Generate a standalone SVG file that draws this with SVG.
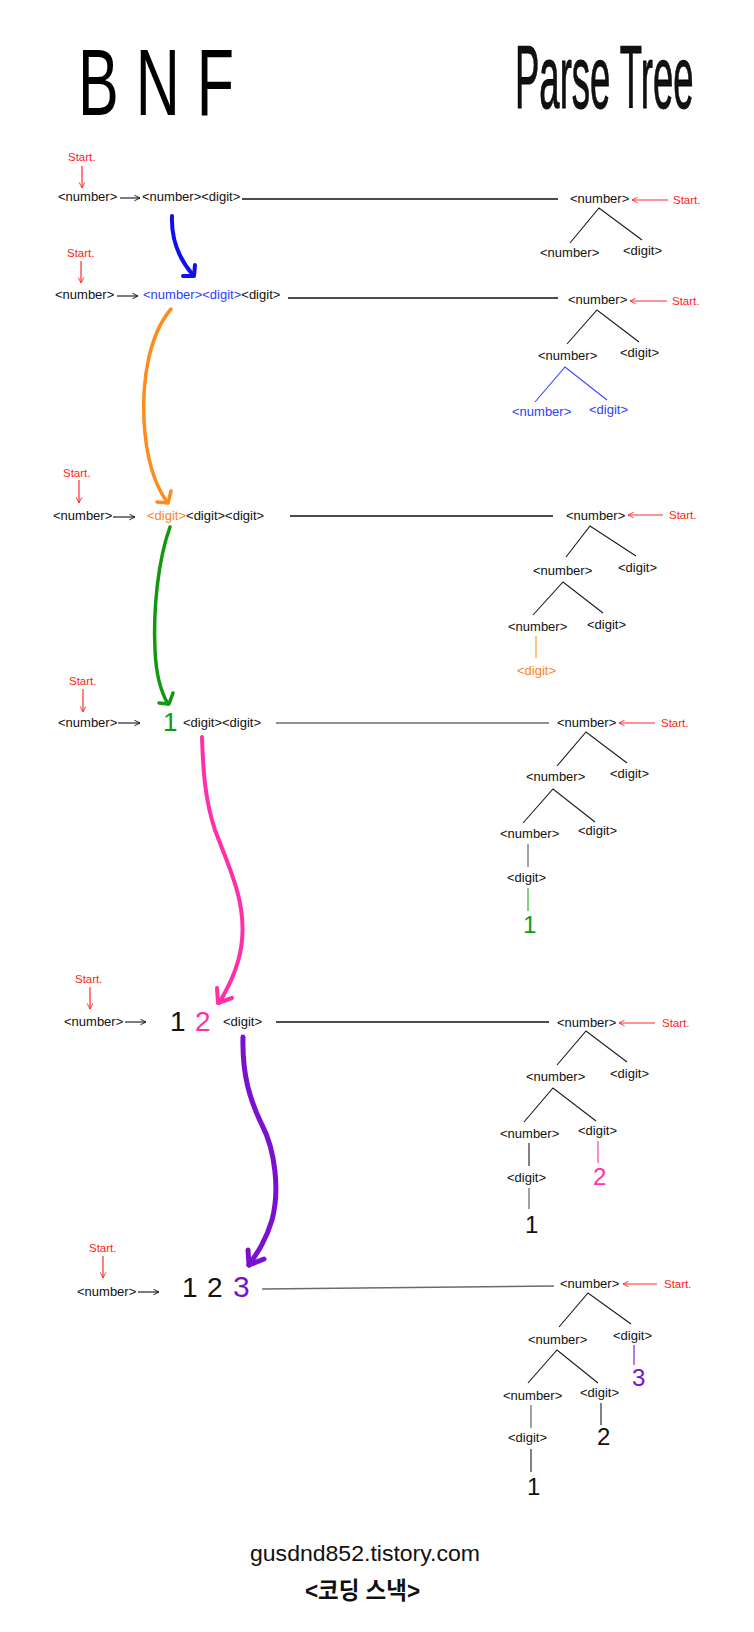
<svg xmlns="http://www.w3.org/2000/svg" width="754" height="1632" viewBox="0 0 754 1632">
<style>
text{font-family:"Liberation Sans",Arial,sans-serif;fill:#111}
.l{font-size:13px}
.s{font-size:11.5px;fill:#ff1a1a}
.d{font-size:26px}
.td{font-size:24px}
.title{font-size:95px;fill:#000}
.foot{font-size:22px;fill:#111}
.kr{font-family:"Liberation Sans","Noto Sans CJK KR",sans-serif;font-size:24px;font-weight:bold}
.blue{fill:#2f3dff}
.orange{fill:#ff7f1a}
.green{fill:#119911}
.pink{fill:#ff2fa8}
.purple{fill:#7a10d0}
.tl{stroke:#1a1a1a;stroke-width:1.1;fill:none}
.hl{stroke:#111;stroke-width:1.5;fill:none}
.gl{stroke:#6a6a6a;stroke-width:1.5;fill:none}
.ra{stroke:#ff2a2a;stroke-width:1.2;fill:none;marker-end:url(#mr)}
.ba{stroke:#111;stroke-width:1.1;fill:none;marker-end:url(#mb)}
.big{fill:none;stroke-linecap:round;stroke-linejoin:round}
</style>
<defs>
<marker id="mr" viewBox="0 0 10 10" refX="9" refY="5" markerWidth="7" markerHeight="7" orient="auto" markerUnits="userSpaceOnUse">
<path d="M1,1 L9,5 L1,9" fill="none" stroke="#ff2a2a" stroke-width="1.3"/>
</marker>
<marker id="mb" viewBox="0 0 10 10" refX="9" refY="5" markerWidth="7" markerHeight="7" orient="auto" markerUnits="userSpaceOnUse">
<path d="M1,1 L9,5 L1,9" fill="none" stroke="#111" stroke-width="1.3"/>
</marker>
</defs>
<rect width="754" height="1632" fill="#fff"/>

<g id="title-bnf"><text class="title" x="78" y="115" textLength="156" lengthAdjust="spacingAndGlyphs">B N F</text></g>
<g id="title-parse"><text transform="translate(515,108) scale(1,2.44)" x="0" y="0" style="font-size:36.5px" fill="#000" stroke="#000" stroke-width="0.4">Parse Tree</text></g>

<g id="connectors">
<!-- start arrows (BNF side) -->
<path class="ra" d="M82,166 L82,188"/>
<path class="ra" d="M81,261 L81,283"/>
<path class="ra" d="M79,480 L79,503"/>
<path class="ra" d="M83,689 L83,712"/>
<path class="ra" d="M90,987 L90,1009"/>
<path class="ra" d="M103,1256 L103,1278"/>
<!-- derivation arrows -->
<path class="ba" d="M120,198 L140,198"/>
<path class="ba" d="M117,296 L138,296"/>
<path class="ba" d="M113,517 L135,517"/>
<path class="ba" d="M118,723 L140,723"/>
<path class="ba" d="M125,1022 L146,1022"/>
<path class="ba" d="M138,1292 L159,1292"/>
<!-- long horizontal lines -->
<path class="hl" d="M242,199 L558,199"/>
<path class="hl" d="M288,298 L558,298"/>
<path class="hl" d="M290,516 L553,516"/>
<path class="gl" d="M276,723 L549,723"/>
<path class="hl" d="M276,1022 L549,1022"/>
<path class="gl" d="M262,1289 L554,1286"/>
<!-- start arrows (tree side) -->
<path class="ra" d="M668,200 L632,200"/>
<path class="ra" d="M667,301 L630,301"/>
<path class="ra" d="M663,515 L628,515"/>
<path class="ra" d="M655,723 L619,723"/>
<path class="ra" d="M655,1023 L619,1023"/>
<path class="ra" d="M657,1284 L623,1284"/>
<!-- tree 1 -->
<path class="tl" d="M570,243 L599,208 L642,240"/>
<!-- tree 2 -->
<path class="tl" d="M567,344 L597,310 L639,342"/>
<path class="tl" d="M535,402 L565,367 L607,400" style="stroke:#3344ff"/>
<!-- tree 3 -->
<path class="tl" d="M566,557 L590,526 L636,556"/>
<path class="tl" d="M533,615 L563,582 L603,613"/>
<path class="tl" d="M536,636 L536,658" style="stroke:#ff8c2a"/>
<!-- tree 4 -->
<path class="tl" d="M557,766 L586,732 L627,763"/>
<path class="tl" d="M523,823 L553,789 L595,822"/>
<path class="tl" d="M528,844 L528,867" style="stroke:#555"/>
<path class="tl" d="M528,888 L528,911" style="stroke:#22aa22"/>
<!-- tree 5 -->
<path class="tl" d="M557,1065 L586,1031 L627,1062"/>
<path class="tl" d="M524,1122 L553,1088 L596,1121"/>
<path class="tl" d="M529,1143 L529,1166"/>
<path class="tl" d="M598,1141 L598,1163" style="stroke:#ff2fa8"/>
<path class="tl" d="M529,1188 L529,1209" style="stroke:#555"/>
<!-- tree 6 -->
<path class="tl" d="M559,1327 L588,1293 L631,1324"/>
<path class="tl" d="M634,1345 L634,1365" style="stroke:#7a10d0"/>
<path class="tl" d="M528,1383 L557,1350 L598,1383"/>
<path class="tl" d="M531,1405 L531,1428" style="stroke:#555"/>
<path class="tl" d="M601,1403 L601,1425"/>
<path class="tl" d="M531,1449 L531,1472"/>
<!-- big curved arrows -->
<path class="big" stroke="#1010ee" stroke-width="4" d="M172,216 C171,240 180,260 193,275"/>
<path class="big" stroke="#1010ee" stroke-width="4" d="M183,276 L194,276 L195,265"/>
<path class="big" stroke="#ff8c1a" stroke-width="3.5" d="M171,309 C149,335 142,380 144,420 C146,460 155,485 167,502"/>
<path class="big" stroke="#ff8c1a" stroke-width="3.5" d="M157,502 L168,503 L171,491"/>
<path class="big" stroke="#109910" stroke-width="3.5" d="M170,527 C158,560 153,610 155,650 C156,675 161,692 168,704"/>
<path class="big" stroke="#109910" stroke-width="3.5" d="M159,703 L169,704 L173,693"/>
<path class="big" stroke="#ff2fa8" stroke-width="4" d="M202,737 C203,770 205,800 215,830 C228,865 246,900 242,940 C240,965 230,985 219,1003"/>
<path class="big" stroke="#ff2fa8" stroke-width="4" d="M217,988 L218,1003 L232,998"/>
<path class="big" stroke="#7a10d0" stroke-width="5" d="M243,1037 C242,1075 250,1100 262,1125 C275,1150 280,1190 272,1220 C266,1240 258,1252 249,1265"/>
<path class="big" stroke="#7a10d0" stroke-width="5" d="M248,1250 L249,1265 L264,1259"/>
</g>

<!-- BNF rows -->
<g id="bnf-row1">
<text class="s" x="68" y="161">Start.</text>
<text class="l" x="58" y="201">&lt;number&gt;</text>
<text class="l" x="142" y="201">&lt;number&gt;&lt;digit&gt;</text>
</g>
<g id="bnf-row2">
<text class="s" x="67" y="257">Start.</text>
<text class="l" x="55" y="299">&lt;number&gt;</text>
<text class="l" x="143" y="299"><tspan class="blue">&lt;number&gt;&lt;digit&gt;</tspan>&lt;digit&gt;</text>
</g>
<g id="bnf-row3">
<text class="s" x="63" y="477">Start.</text>
<text class="l" x="53" y="520">&lt;number&gt;</text>
<text class="l" x="147" y="520"><tspan class="orange">&lt;digit&gt;</tspan>&lt;digit&gt;&lt;digit&gt;</text>
</g>
<g id="bnf-row4">
<text class="s" x="69" y="685">Start.</text>
<text class="l" x="58" y="727">&lt;number&gt;</text>
<text class="d green" x="163" y="731">1</text>
<text class="l" x="183" y="727">&lt;digit&gt;&lt;digit&gt;</text>
</g>
<g id="bnf-row5">
<text class="s" x="75" y="983">Start.</text>
<text class="l" x="64" y="1026">&lt;number&gt;</text>
<text class="d" x="170" y="1031" style="font-size:28px">1</text>
<text class="d pink" x="195" y="1031" style="font-size:28px">2</text>
<text class="l" x="223" y="1026">&lt;digit&gt;</text>
</g>
<g id="bnf-row6">
<text class="s" x="89" y="1252">Start.</text>
<text class="l" x="77" y="1296">&lt;number&gt;</text>
<text class="d" x="182" y="1297" style="font-size:28px">1</text>
<text class="d" x="207" y="1297" style="font-size:28px">2</text>
<text class="d purple" x="233" y="1297" style="font-size:30px">3</text>
</g>

<!-- Tree 1 -->
<g id="t1-root"><text class="l" x="570" y="203">&lt;number&gt;</text></g>
<g id="t1-start"><text class="s" x="673" y="204">Start.</text></g>
<g id="t1-n"><text class="l" x="540" y="257">&lt;number&gt;</text></g>
<g id="t1-d"><text class="l" x="623" y="255">&lt;digit&gt;</text></g>

<!-- Tree 2 -->
<g id="t2-root"><text class="l" x="568" y="304">&lt;number&gt;</text></g>
<g id="t2-start"><text class="s" x="672" y="305">Start.</text></g>
<g id="t2-n"><text class="l" x="538" y="360">&lt;number&gt;</text></g>
<g id="t2-d"><text class="l" x="620" y="357">&lt;digit&gt;</text></g>
<g id="t2-nn"><text class="l blue" x="512" y="416">&lt;number&gt;</text></g>
<g id="t2-nd"><text class="l blue" x="589" y="414">&lt;digit&gt;</text></g>

<!-- Tree 3 -->
<g id="t3-root"><text class="l" x="566" y="520">&lt;number&gt;</text></g>
<g id="t3-start"><text class="s" x="669" y="519">Start.</text></g>
<g id="t3-n"><text class="l" x="533" y="575">&lt;number&gt;</text></g>
<g id="t3-d"><text class="l" x="618" y="572">&lt;digit&gt;</text></g>
<g id="t3-nn"><text class="l" x="508" y="631">&lt;number&gt;</text></g>
<g id="t3-nd"><text class="l" x="587" y="629">&lt;digit&gt;</text></g>
<g id="t3-nnd"><text class="l orange" x="517" y="675">&lt;digit&gt;</text></g>

<!-- Tree 4 -->
<g id="t4-root"><text class="l" x="557" y="727">&lt;number&gt;</text></g>
<g id="t4-start"><text class="s" x="661" y="727">Start.</text></g>
<g id="t4-n"><text class="l" x="526" y="781">&lt;number&gt;</text></g>
<g id="t4-d"><text class="l" x="610" y="778">&lt;digit&gt;</text></g>
<g id="t4-nn"><text class="l" x="500" y="838">&lt;number&gt;</text></g>
<g id="t4-nd"><text class="l" x="578" y="835">&lt;digit&gt;</text></g>
<g id="t4-nnd"><text class="l" x="507" y="882">&lt;digit&gt;</text></g>
<g id="t4-one"><text class="td green" x="523" y="933">1</text></g>

<!-- Tree 5 -->
<g id="t5-root"><text class="l" x="557" y="1027">&lt;number&gt;</text></g>
<g id="t5-start"><text class="s" x="662" y="1027">Start.</text></g>
<g id="t5-n"><text class="l" x="526" y="1081">&lt;number&gt;</text></g>
<g id="t5-d"><text class="l" x="610" y="1078">&lt;digit&gt;</text></g>
<g id="t5-nn"><text class="l" x="500" y="1138">&lt;number&gt;</text></g>
<g id="t5-nd"><text class="l" x="578" y="1135">&lt;digit&gt;</text></g>
<g id="t5-nnd"><text class="l" x="507" y="1182">&lt;digit&gt;</text></g>
<g id="t5-two"><text class="td pink" x="593" y="1185">2</text></g>
<g id="t5-one"><text class="td" x="525" y="1233">1</text></g>

<!-- Tree 6 -->
<g id="t6-root"><text class="l" x="560" y="1288">&lt;number&gt;</text></g>
<g id="t6-start"><text class="s" x="664" y="1288">Start.</text></g>
<g id="t6-n"><text class="l" x="528" y="1344">&lt;number&gt;</text></g>
<g id="t6-d"><text class="l" x="613" y="1340">&lt;digit&gt;</text></g>
<g id="t6-three"><text class="td purple" x="632" y="1386">3</text></g>
<g id="t6-nn"><text class="l" x="503" y="1400">&lt;number&gt;</text></g>
<g id="t6-nd"><text class="l" x="580" y="1397">&lt;digit&gt;</text></g>
<g id="t6-nnd"><text class="l" x="508" y="1442">&lt;digit&gt;</text></g>
<g id="t6-two"><text class="td" x="597" y="1445">2</text></g>
<g id="t6-one"><text class="td" x="527" y="1495">1</text></g>

<!-- footer -->
<g id="footer">
<text class="foot" x="250" y="1561" textLength="230" lengthAdjust="spacingAndGlyphs">gusdnd852.tistory.com</text>
<text class="kr" x="305" y="1599" textLength="115" lengthAdjust="spacingAndGlyphs">&lt;코딩 스낵&gt;</text>
</g>
</svg>
